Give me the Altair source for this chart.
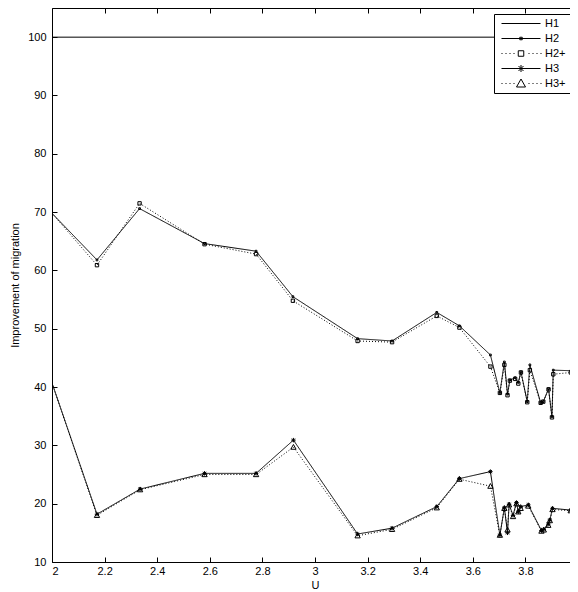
import altair as alt
import pandas as pd

# ---------------- data ----------------
series_names = ["H1", "H2", "H2+", "H3", "H3+"]

u_h1 = [2.0, 4.0]
h1 = [100.0, 100.0]

u_upper = [2.000, 2.171, 2.333, 2.580, 2.776, 2.916, 3.162, 3.293, 3.463, 3.549,
           3.667, 3.703, 3.720, 3.732, 3.741, 3.761, 3.773, 3.783, 3.807, 3.817,
           3.858, 3.868, 3.888, 3.901, 3.906, 3.973, 3.985, 4.000]
h2 = [69.8, 61.8, 70.6, 64.6, 63.3, 55.5, 48.3, 47.9, 52.8, 50.5,
      45.5, 39.0, 44.3, 38.8, 41.2, 41.6, 40.8, 42.6, 37.5, 43.8,
      37.3, 37.5, 39.7, 34.9, 42.9, 42.8, 33.3, 35.0]
h2_plus = [69.8, 60.9, 71.5, 64.5, 62.8, 54.8, 47.9, 47.7, 52.2, 50.2,
           43.5, 39.0, 43.8, 38.6, 41.1, 41.4, 40.6, 42.5, 37.4, 42.9,
           37.3, 37.5, 39.6, 34.8, 42.2, 42.5, 33.2, 35.0]

u_lower = [2.000, 2.171, 2.335, 2.580, 2.776, 2.918, 3.162, 3.293, 3.463, 3.549,
           3.667, 3.703, 3.720, 3.732, 3.738, 3.753, 3.766, 3.773, 3.782, 3.811,
           3.861, 3.870, 3.887, 3.893, 3.903, 3.972, 3.982, 4.000]
h3 = [40.7, 18.2, 22.5, 25.2, 25.2, 30.9, 14.8, 15.8, 19.5, 24.3,
      25.5, 14.6, 19.3, 15.0, 19.9, 18.0, 20.2, 18.6, 19.5, 19.8,
      15.4, 15.6, 16.5, 17.2, 19.2, 18.9, 15.4, 15.6]
h3_plus = [40.7, 18.0, 22.4, 25.0, 25.0, 29.7, 14.5, 15.6, 19.3, 24.2,
           23.0, 14.6, 19.2, 15.5, 19.8, 17.8, 20.0, 18.6, 19.2, 19.6,
           15.3, 15.5, 16.3, 17.1, 19.0, 18.8, 15.3, 15.5]

x_ticks = [2.0, 2.2, 2.4, 2.6, 2.8, 3.0, 3.2, 3.4, 3.6, 3.8, 4.0]
y_ticks = [10, 20, 30, 40, 50, 60, 70, 80, 90, 100]

# ---------------- long table ----------------
rows = []
for name, us, vs in [("H1", u_h1, h1), ("H2", u_upper, h2), ("H2+", u_upper, h2_plus),
                     ("H3", u_lower, h3), ("H3+", u_lower, h3_plus)]:
    for i, (u, v) in enumerate(zip(us, vs)):
        rows.append({"U": u, "value": v, "series": name, "order": i})
df = pd.DataFrame(rows)

FONT = "Liberation Sans"

xs = alt.Scale(domain=[2, 4], nice=False, zero=False)
ys = alt.Scale(domain=[10, 105], nice=False, zero=False)

# axes: labelled ones plus inward tick-only ones (shifted inside by offset)
ax_x_lab = alt.Axis(orient="bottom", values=x_ticks, format="~g", tickSize=0, domain=False,
                    grid=False, labelPadding=3, labelFont=FONT, labelFontSize=11,
                    labelColor="black", title="U", titleFont=FONT, titleFontSize=11,
                    titleFontWeight="normal", titleColor="black",
                    titleBaseline="alphabetic", titleY=26)
ax_y_lab = alt.Axis(orient="left", values=y_ticks, tickSize=0, domain=False, grid=False,
                    labelPadding=6, labelFont=FONT, labelFontSize=11, labelColor="black",
                    title="Improvement of migration", titleFont=FONT, titleFontSize=11,
                    titleFontWeight="normal", titleColor="black", titlePadding=7)
ax_x_bot = alt.Axis(orient="bottom", values=x_ticks, labels=False, domain=False, grid=False,
                    tickSize=5, offset=-5, tickColor="black", title=None)
ax_x_top = alt.Axis(orient="top", values=x_ticks, labels=False, domain=False, grid=False,
                    tickSize=5, offset=-5, tickColor="black", title=None)
ax_y_left = alt.Axis(orient="left", values=y_ticks, labels=False, domain=False, grid=False,
                     tickSize=5, offset=-5, tickColor="black", title=None)
ax_y_right = alt.Axis(orient="right", values=y_ticks, labels=False, domain=False, grid=False,
                      tickSize=5, offset=-5, tickColor="black", title=None)

base = alt.Chart(df)

h1_layer = base.transform_filter("datum.series == 'H1'").mark_line(
    color="black", strokeWidth=1, clip=True
).encode(
    x=alt.X("U:Q", scale=xs, axis=ax_x_top),
    y=alt.Y("value:Q", scale=ys, axis=ax_y_right),
    order="order:Q",
)

line_layer = base.transform_filter("datum.series != 'H1'").mark_line(
    color="black", strokeWidth=1, clip=True
).encode(
    x=alt.X("U:Q", scale=xs, axis=ax_x_lab),
    y=alt.Y("value:Q", scale=ys, axis=ax_y_lab),
    detail="series:N",
    order="order:Q",
    strokeDash=alt.StrokeDash("series:N", scale=alt.Scale(
        domain=["H2", "H2+", "H3", "H3+"], range=[[1, 0], [1, 2], [1, 0], [1, 2]]), legend=None),
)

dot_path = "M-1,-1L1,-1L1,1L-1,1Z"
star_path = "M-1,0L1,0M0,-1L0,1M-0.7,-0.7L0.7,0.7M-0.7,0.7L0.7,-0.7"
tri_path = "M0,-1L1,0.8L-1,0.8Z"

point_layer = base.transform_filter(
    "datum.series != 'H1' && datum.U > 2 && datum.U < 4"
).mark_point(color="black", filled=False, strokeWidth=1, opacity=1, clip=True).encode(
    x=alt.X("U:Q", scale=xs, axis=ax_x_bot),
    y=alt.Y("value:Q", scale=ys, axis=ax_y_left),
    shape=alt.Shape("series:N", scale=alt.Scale(
        domain=["H2", "H2+", "H3", "H3+"], range=[dot_path, "square", star_path, tri_path]),
        legend=None),
    size=alt.Size("series:N", scale=alt.Scale(
        domain=["H2", "H2+", "H3", "H3+"], range=[3, 28, 49, 81]), legend=None),
)

# legend symbols: line + marker drawn as one path (unit = 5px at symbol size 100)
def dots():
    xs_ = [-3.9, -3.1, -2.3, -1.5, 1.5, 2.3, 3.1, 3.9]
    return "".join(f"M{x:.2f},0L{x + 0.2:.2f},0" for x in xs_)

line_p = "M-3.9,0L3.9,0"
leg_paths = [
    line_p,
    line_p + "M-0.25,-0.25L0.25,-0.25L0.25,0.25L-0.25,0.25Z",
    dots() + "M-0.55,-0.55L0.55,-0.55L0.55,0.55L-0.55,0.55Z",
    line_p + "M-0.7,0L0.7,0M0,-0.7L0,0.7M-0.5,-0.5L0.5,0.5M-0.5,0.5L0.5,-0.5",
    dots() + "M0,-0.9L0.9,0.7L-0.9,0.7Z",
]

legend_layer = base.mark_point(color="black", filled=False, strokeWidth=1, opacity=0).encode(
    x=alt.X("U:Q", scale=xs, axis=None),
    y=alt.Y("value:Q", scale=ys, axis=None),
    shape=alt.Shape("series:N", scale=alt.Scale(domain=series_names, range=leg_paths),
                    legend=alt.Legend(
                        title=None, orient="none", legendX=442, legendY=6,
                        strokeColor="black", fillColor="white", padding=4, cornerRadius=0,
                        labelFont=FONT, labelFontSize=11, labelColor="black",
                        symbolSize=100, symbolStrokeWidth=1, symbolStrokeColor="black",
                        symbolFillColor="transparent", symbolOpacity=1,
                        symbolOffset=17.5, labelOffset=18.5, rowPadding=3)),
)

chart = alt.layer(h1_layer, line_layer, point_layer, legend_layer).resolve_scale(
    shape="independent"
).resolve_axis(
    x="independent", y="independent"
).properties(
    width=526, height=554,
    autosize=alt.AutoSizeParams(type="none"),
    padding={"left": 44, "top": 0, "right": -8, "bottom": 30},
    background="white",
).configure_view(stroke="black", strokeWidth=1)

chart.save("out.html", embed_options={"renderer": "svg", "actions": False})
